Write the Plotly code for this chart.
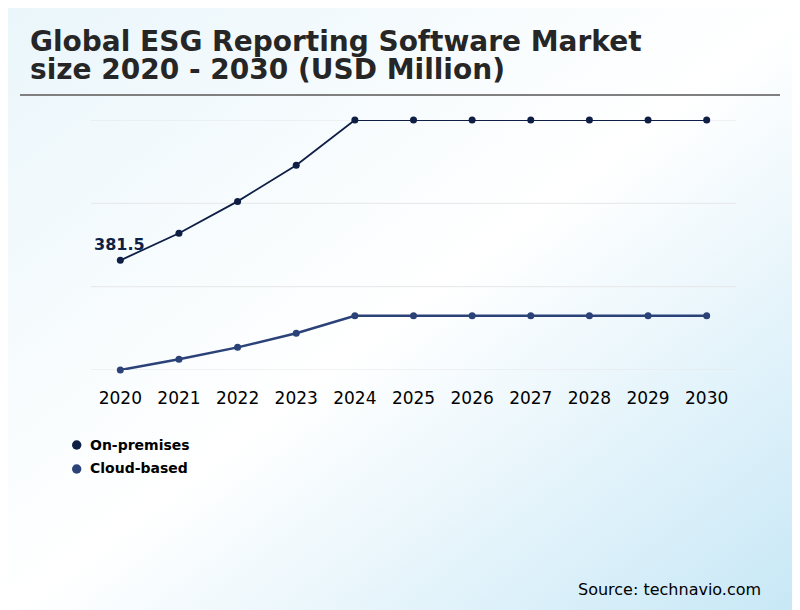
import base64
import numpy as np
import plotly.graph_objects as go

# ---- data ----
years = ["2020", "2021", "2022", "2023", "2024", "2025", "2026", "2027", "2028", "2029", "2030"]
on_premises = [381.5, 446, 522, 608, 716, 716, 716, 716, 716, 716, 716]
cloud_based = [120, 145.5, 174, 207.5, 249.5, 249.5, 249.5, 249.5, 249.5, 249.5, 249.5]
series_names = ["On-premises", "Cloud-based"]
label_value = "381.5"

W, H = 800, 610
OFF = 8  # page body offset in the screenshot
C_ON = "#0e1e45"
C_CLOUD = "#2b4278"
FONT = "DejaVu Sans"


def px(v):
    return (v - OFF) / W


def py(v):
    return (H - (v - OFF)) / H


ymin = min(min(on_premises), min(cloud_based))
ymax = max(max(on_premises), max(cloud_based))
grid_vals = list(np.linspace(ymin, ymax, 4))

fig = go.Figure()
fig.add_trace(go.Scatter(x=years, y=on_premises, mode="lines+markers", name=series_names[0],
                         line=dict(color=C_ON, width=1.8), marker=dict(color=C_ON, size=7),
                         showlegend=False, cliponaxis=False))
fig.add_trace(go.Scatter(x=years, y=cloud_based, mode="lines+markers", name=series_names[1],
                         line=dict(color=C_CLOUD, width=2.5), marker=dict(color=C_CLOUD, size=7),
                         showlegend=False, cliponaxis=False))

svg = ('<svg xmlns="http://www.w3.org/2000/svg" width="800" height="610">'
       '<defs><linearGradient id="g" x1="0" y1="0" x2="1" y2="1">'
       '<stop offset="0" stop-color="#eaf6fb"/>'
       '<stop offset="0.5" stop-color="#ffffff"/>'
       '<stop offset="1" stop-color="#c6e7f6"/>'
       '</linearGradient></defs>'
       '<rect width="800" height="610" fill="url(#g)"/></svg>')
src = "data:image/svg+xml;base64," + base64.b64encode(svg.encode()).decode()

shapes = [dict(type="line", xref="paper", yref="paper", x0=px(20), x1=px(780),
               y0=py(95), y1=py(95), line=dict(color="#808080", width=2))]
# horizontal gridlines (drawn on the y scale across the plot width)
for gv in grid_vals:
    shapes.append(dict(type="line", xref="x domain", yref="y", x0=0, x1=1, y0=gv, y1=gv,
                       line=dict(color="#e6e6e6", width=1), layer="below"))

# manual legend (dot + bold label)
legend_colors = [C_ON, C_CLOUD]
legend_rows = [444.5, 468.5]
annotations = []
for name, col, yy in zip(series_names, legend_colors, legend_rows):
    r = 4.7
    shapes.append(dict(type="circle", xref="paper", yref="paper",
                       x0=px(76.7 - r), x1=px(76.7 + r), y0=py(yy + 0.5 + r), y1=py(yy + 0.5 - r),
                       fillcolor=col, line=dict(width=0)))
    annotations.append(dict(text="<b>" + name + "</b>", xref="paper", yref="paper",
                            x=px(88), y=py(yy), xanchor="left", yanchor="middle",
                            showarrow=False, font=dict(size=14, color="#000000", family=FONT)))

annotations += [
    dict(text="<b>Global ESG Reporting Software Market</b>", xref="paper", yref="paper",
         x=px(28), y=py(41.5), xanchor="left", yanchor="middle", showarrow=False,
         font=dict(size=28, color="#262626", family=FONT)),
    dict(text="<b>size 2020 - 2030 (USD Million)</b>", xref="paper", yref="paper",
         x=px(28), y=py(69.5), xanchor="left", yanchor="middle", showarrow=False,
         font=dict(size=28, color="#262626", family=FONT)),
    dict(text="<b>" + label_value + "</b>", x=years.index("2020"), y=on_premises[0],
         xref="x", yref="y", yshift=16, xshift=-1, showarrow=False, xanchor="center",
         yanchor="middle", font=dict(size=16, color=C_ON, family=FONT)),
    dict(text="Source: technavio.com", xref="paper", yref="paper", x=px(763), y=py(589),
         xanchor="right", yanchor="middle", showarrow=False,
         font=dict(size=16, color="#000000", family=FONT)),
]

fig.update_layout(
    width=W, height=H,
    margin=dict(l=0, r=0, t=0, b=0),
    paper_bgcolor="white",
    plot_bgcolor="rgba(0,0,0,0)",
    font=dict(family=FONT, color="#000000"),
    showlegend=False,
    images=[dict(source=src, xref="paper", yref="paper", x=0, y=1, sizex=1, sizey=1,
                 sizing="stretch", layer="below", xanchor="left", yanchor="top")],
    xaxis=dict(domain=[px(91), px(736)], type="category", range=[-0.5, 10.5],
               showgrid=False, zeroline=False, showline=False, ticks="",
               tickfont=dict(size=17, color="#000000", family=FONT), ticklabelstandoff=16,
               fixedrange=True),
    yaxis=dict(domain=[py(370), py(120)], range=[ymin, ymax],
               tickvals=grid_vals, showticklabels=False,
               showgrid=False, zeroline=False,
               showline=False, ticks="", fixedrange=True),
    shapes=shapes,
    annotations=annotations,
)

fig.write_html("out.html")
